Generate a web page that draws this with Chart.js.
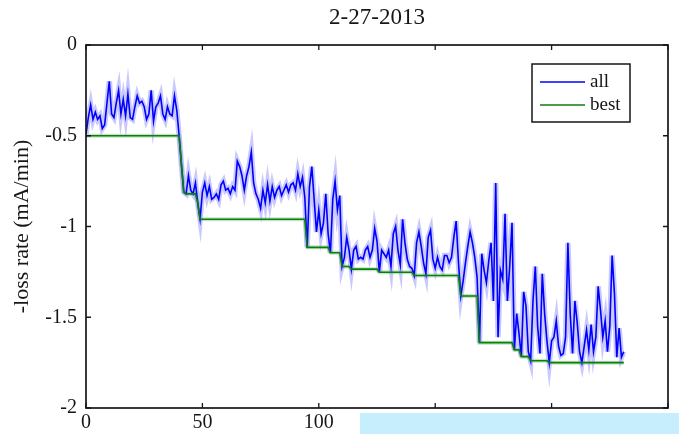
<!DOCTYPE html>
<html>
<head>
<meta charset="utf-8">
<script src="https://cdn.jsdelivr.net/npm/chart.js@4"></script>
<style>
  html, body { margin: 0; padding: 0; background: #fff; }
  #wrap { position: relative; width: 679px; height: 434px; overflow: hidden; }
  #band { position: absolute; left: 360px; top: 413px; width: 319px; height: 21px; background: #c6eefc; }
</style>
</head>
<body>
<div id="wrap">
  <canvas id="lossChart" width="679" height="434"></canvas>
  <div id="band"></div>
</div>
<script>
// ── data ────────────────────────────────────────────────────────────────
const dateLabel = "2-27-2013";
const yTitle    = "-loss rate (mA/min)";
const xTicks    = [0, 50, 100, 150, 200, 250];
const yTicks    = [0, -0.5, -1, -1.5, -2];

// loss rate of every evaluated setting, one per iteration (x = index)
const rateAll = [
  -0.49,-0.40,-0.33,-0.41,-0.37,-0.41,-0.39,-0.46,-0.44,-0.32,
  -0.20,-0.38,-0.40,-0.32,-0.25,-0.38,-0.30,-0.39,-0.27,-0.40,
  -0.41,-0.34,-0.28,-0.32,-0.31,-0.34,-0.41,-0.38,-0.25,-0.42,
  -0.34,-0.32,-0.28,-0.38,-0.41,-0.34,-0.38,-0.39,-0.28,-0.36,
  -0.50,-0.66,-0.81,-0.82,-0.72,-0.80,-0.82,-0.76,-0.87,-0.96,
  -0.81,-0.76,-0.83,-0.78,-0.85,-0.84,-0.82,-0.85,-0.77,-0.75,
  -0.80,-0.79,-0.82,-0.78,-0.80,-0.64,-0.67,-0.72,-0.80,-0.72,
  -0.67,-0.59,-0.76,-0.82,-0.85,-0.90,-0.80,-0.87,-0.77,-0.86,
  -0.78,-0.84,-0.80,-0.78,-0.83,-0.80,-0.77,-0.81,-0.77,-0.76,
  -0.80,-0.71,-0.78,-0.73,-0.84,-1.115,-0.78,-0.67,-0.85,-1.03,
  -0.91,-1.04,-0.98,-0.82,-1.04,-1.145,-0.85,-0.75,-0.91,-0.83,
  -1.22,-1.17,-1.06,-1.13,-1.235,-1.13,-1.11,-1.18,-1.17,-1.18,
  -1.13,-1.11,-1.17,-1.13,-1.01,-1.08,-1.252,-1.13,-1.15,-1.17,
  -1.13,-1.22,-1.04,-1.00,-1.13,-1.21,-0.96,-1.09,-1.18,-1.22,
  -1.23,-1.27,-1.09,-1.03,-1.11,-1.20,-1.26,-1.06,-1.02,-1.18,
  -1.23,-1.17,-1.22,-1.24,-1.16,-1.16,-1.20,-1.17,-1.06,-0.97,
  -1.20,-1.383,-1.30,-1.20,-1.11,-1.03,-1.09,-1.17,-1.28,-1.64,
  -1.15,-1.24,-1.31,-1.19,-1.09,-1.41,-0.76,-1.61,-1.24,-1.29,
  -0.93,-1.41,-1.22,-0.98,-1.68,-1.48,-1.59,-1.717,-1.36,-1.44,
  -1.69,-1.74,-1.41,-1.22,-1.55,-1.70,-1.26,-1.48,-1.63,-1.75,
  -1.63,-1.61,-1.52,-1.66,-1.71,-1.70,-1.61,-1.09,-1.48,-1.70,
  -1.41,-1.53,-1.69,-1.75,-1.66,-1.57,-1.68,-1.54,-1.69,-1.61,
  -1.33,-1.46,-1.61,-1.52,-1.69,-1.55,-1.16,-1.37,-1.72,-1.56,
  -1.72,-1.69
];

// best-so-far curve, given at its corner points
const bestX = [0, 40, 41, 42, 43, 47, 48, 49, 94, 95, 104, 105, 109, 110, 113, 114, 125, 126,
               140, 141, 160, 161, 168, 169, 183, 184, 186, 187, 190, 191, 198, 199, 231];
const bestY = [-0.5, -0.5, -0.66, -0.81, -0.82, -0.82, -0.87, -0.96, -0.96, -1.115, -1.115, -1.145,
               -1.145, -1.22, -1.22, -1.235, -1.235, -1.252, -1.252, -1.27, -1.27, -1.383, -1.383,
               -1.64, -1.64, -1.68, -1.68, -1.717, -1.717, -1.74, -1.74, -1.75, -1.75];

// ── look ────────────────────────────────────────────────────────────────
const SERIF = "'Liberation Serif', 'DejaVu Serif', serif";
const INK   = "#161616";

const allPts  = rateAll.map((y, i) => ({ x: i, y }));
const bestPts = bestX.map((x, i) => ({ x, y: bestY[i] }));

// MATLAB-style box with inward ticks, title on top
const frame = {
  id: "frame",
  afterDatasetsDraw(chart) {
    const { ctx, chartArea: a, scales } = chart;
    ctx.save();
    ctx.strokeStyle = INK;
    ctx.lineWidth = 1.7;
    ctx.strokeRect(a.left, a.top, a.right - a.left, a.bottom - a.top);
    ctx.lineWidth = 1.3;
    ctx.beginPath();
    xTicks.forEach(v => {
      const px = scales.x.getPixelForValue(v);
      ctx.moveTo(px, a.bottom); ctx.lineTo(px, a.bottom - 5);
      ctx.moveTo(px, a.top);    ctx.lineTo(px, a.top + 5);
    });
    yTicks.forEach(v => {
      const py = scales.y.getPixelForValue(v);
      ctx.moveTo(a.left, py);  ctx.lineTo(a.left + 5, py);
      ctx.moveTo(a.right, py); ctx.lineTo(a.right - 5, py);
    });
    ctx.stroke();

    ctx.fillStyle = INK;
    ctx.font = `23px ${SERIF}`;
    ctx.textAlign = "center";
    ctx.textBaseline = "middle";
    ctx.fillText(dateLabel, (a.left + a.right) / 2, 18);
    ctx.restore();
  }
};

// boxed legend in the upper right of the axes
const boxLegend = {
  id: "boxLegend",
  afterDraw(chart) {
    const { ctx, chartArea: a } = chart;
    const entries = chart.data.datasets.filter(d => d.label);
    const order = ["all", "best"];
    entries.sort((p, q) => order.indexOf(p.label) - order.indexOf(q.label));
    const x = a.right - 136, y = a.top + 19, w = 98, h = 58;
    ctx.save();
    ctx.fillStyle = "#fff";
    ctx.fillRect(x, y, w, h);
    ctx.strokeStyle = INK;
    ctx.lineWidth = 1.5;
    ctx.strokeRect(x, y, w, h);
    ctx.font = `19px ${SERIF}`;
    ctx.textBaseline = "middle";
    entries.forEach((d, i) => {
      const ly = y + 18 + i * 23;
      ctx.strokeStyle = d.borderColor;
      ctx.lineWidth = 1.6;
      ctx.beginPath();
      ctx.moveTo(x + 8, ly); ctx.lineTo(x + 53, ly);
      ctx.stroke();
      ctx.fillStyle = INK;
      ctx.fillText(d.label, x + 58, ly);
    });
    ctx.restore();
  }
};

new Chart(document.getElementById("lossChart"), {
  type: "line",
  data: {
    datasets: [
      { label: "best", data: bestPts, borderColor: "#0a800a", borderWidth: 1.6 },
      { label: "all",  data: allPts,  borderColor: "#0000ff", borderWidth: 1.6 },
      // soft glow under the traces
      { label: "", data: allPts, borderColor: "rgba(120,120,255,0.4)", borderWidth: 5.5 },
      { label: "", data: bestPts, borderColor: "rgba(0,128,0,0.22)", borderWidth: 4 }
    ]
  },
  options: {
    responsive: false,
    animation: false,
    layout: { padding: { top: 45, right: 11, left: 0, bottom: 0 } },
    elements: { point: { radius: 0 }, line: { tension: 0 } },
    plugins: { legend: { display: false }, tooltip: { enabled: false } },
    scales: {
      x: {
        type: "linear", min: 0, max: 250,
        afterBuildTicks: s => { s.ticks = xTicks.map(v => ({ value: v })); },
        afterFit: s => { s.height = 26; s.paddingLeft = 0; s.paddingRight = 0; },
        grid: { display: false },
        border: { display: false },
        ticks: { color: INK, font: { family: SERIF, size: 20 }, padding: -5, maxRotation: 0 }
      },
      y: {
        type: "linear", min: -2, max: 0,
        afterBuildTicks: s => { s.ticks = yTicks.map(v => ({ value: v })); },
        afterFit: s => { s.width = 86; s.paddingTop = 0; s.paddingBottom = 0; },
        grid: { display: false },
        border: { display: false },
        ticks: { color: INK, font: { family: SERIF, size: 20 }, padding: 1, callback: v => String(v) },
        title: {
          display: true, text: yTitle, color: INK,
          font: { family: SERIF, size: 22 }, padding: { top: 9, bottom: 0 }
        }
      }
    }
  },
  plugins: [frame, boxLegend]
});
</script>
</body>
</html>
